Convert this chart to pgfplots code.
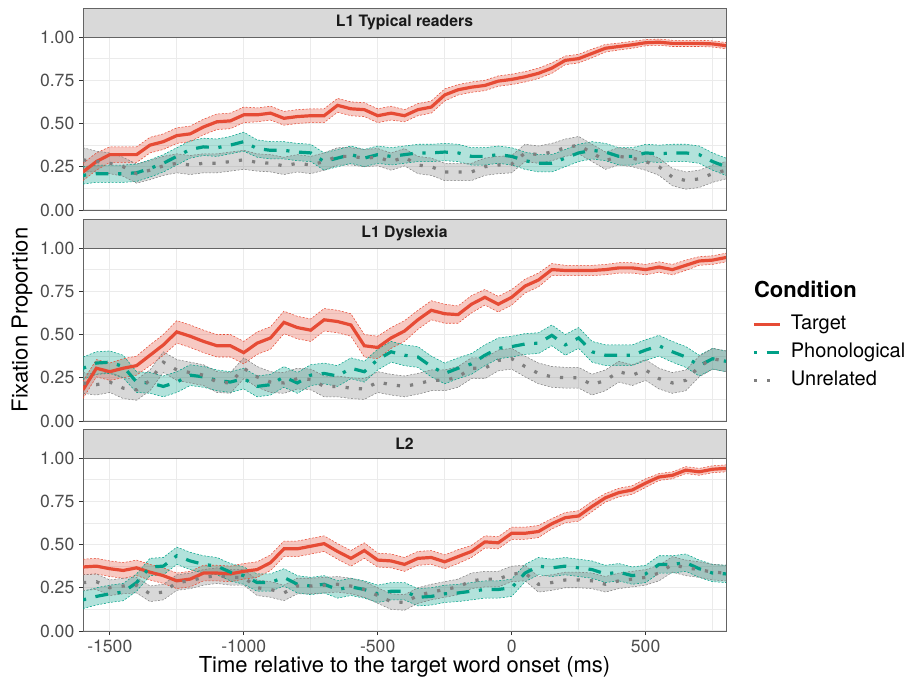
\documentclass[border=0pt]{standalone}
\usepackage{fontspec}
\setmainfont{TeX Gyre Heros}
\usepackage{pgfplots}
\usepackage{pgfplotstable}
\pgfplotsset{compat=1.18}
\usepgfplotslibrary{fillbetween}

\definecolor{cT}{HTML}{E64B35}
\definecolor{cP}{HTML}{00A087}
\definecolor{cU}{HTML}{7F7F7F}
\definecolor{gridc}{RGB}{235,235,235}
\definecolor{tickc}{RGB}{77,77,77}
\definecolor{framec}{RGB}{100,100,100}
\definecolor{stripc}{RGB}{217,217,217}

% columns: time, mean and half-width of the band for Target (T), Phonological (P), Unrelated (U)
\pgfplotstableread{
t T Ts P Ps U Us
-1600 0.22 0.05 0.20 0.05 0.29 0.07
-1550 0.28 0.05 0.21 0.05 0.28 0.06
-1500 0.32 0.045 0.21 0.05 0.27 0.06
-1450 0.32 0.045 0.21 0.05 0.25 0.055
-1400 0.32 0.045 0.215 0.05 0.21 0.055
-1350 0.375 0.045 0.24 0.05 0.23 0.055
-1300 0.395 0.045 0.27 0.05 0.255 0.055
-1250 0.43 0.045 0.31 0.05 0.27 0.055
-1200 0.44 0.045 0.35 0.05 0.26 0.055
-1150 0.48 0.045 0.365 0.05 0.27 0.055
-1100 0.51 0.045 0.36 0.05 0.27 0.055
-1050 0.515 0.045 0.375 0.05 0.28 0.055
-1000 0.55 0.045 0.395 0.055 0.29 0.055
-950 0.55 0.04 0.355 0.05 0.275 0.05
-900 0.56 0.04 0.345 0.05 0.27 0.05
-850 0.53 0.04 0.345 0.05 0.255 0.05
-800 0.54 0.04 0.335 0.05 0.27 0.05
-750 0.545 0.04 0.33 0.05 0.26 0.05
-700 0.545 0.04 0.28 0.05 0.28 0.05
-650 0.605 0.04 0.30 0.05 0.31 0.05
-600 0.585 0.04 0.32 0.05 0.31 0.05
-550 0.58 0.04 0.30 0.05 0.30 0.05
-500 0.545 0.04 0.32 0.05 0.305 0.05
-450 0.56 0.04 0.31 0.05 0.28 0.05
-400 0.545 0.035 0.32 0.05 0.305 0.05
-350 0.58 0.035 0.33 0.05 0.26 0.05
-300 0.595 0.035 0.33 0.05 0.25 0.05
-250 0.665 0.035 0.335 0.05 0.22 0.05
-200 0.695 0.03 0.33 0.05 0.22 0.05
-150 0.71 0.03 0.31 0.05 0.22 0.05
-100 0.72 0.03 0.31 0.05 0.25 0.05
-50 0.745 0.03 0.32 0.05 0.26 0.05
0 0.755 0.03 0.31 0.05 0.265 0.05
50 0.77 0.03 0.285 0.05 0.33 0.05
100 0.79 0.03 0.27 0.05 0.32 0.05
150 0.82 0.03 0.27 0.05 0.335 0.05
200 0.865 0.025 0.30 0.05 0.36 0.05
250 0.875 0.025 0.33 0.05 0.375 0.05
300 0.905 0.025 0.345 0.05 0.33 0.05
350 0.935 0.022 0.335 0.05 0.285 0.05
400 0.945 0.02 0.31 0.05 0.31 0.05
450 0.955 0.02 0.31 0.05 0.30 0.05
500 0.967 0.018 0.33 0.05 0.28 0.05
550 0.97 0.018 0.325 0.05 0.25 0.05
600 0.963 0.018 0.33 0.05 0.19 0.05
650 0.963 0.018 0.33 0.05 0.17 0.05
700 0.963 0.018 0.32 0.05 0.18 0.05
750 0.96 0.018 0.28 0.05 0.21 0.05
800 0.95 0.018 0.25 0.05 0.23 0.05
}\typical

\pgfplotstableread{
t T Ts P Ps U Us
-1600 0.18 0.05 0.305 0.065 0.22 0.06
-1550 0.305 0.05 0.335 0.065 0.21 0.06
-1500 0.285 0.05 0.34 0.065 0.225 0.06
-1450 0.305 0.055 0.315 0.065 0.19 0.06
-1400 0.32 0.055 0.225 0.06 0.18 0.06
-1350 0.38 0.06 0.22 0.06 0.235 0.06
-1300 0.44 0.06 0.20 0.06 0.34 0.06
-1250 0.515 0.065 0.225 0.06 0.295 0.06
-1200 0.49 0.065 0.265 0.06 0.28 0.06
-1150 0.46 0.065 0.255 0.06 0.265 0.06
-1100 0.435 0.065 0.235 0.06 0.225 0.06
-1050 0.435 0.065 0.225 0.06 0.22 0.06
-1000 0.395 0.065 0.245 0.06 0.305 0.06
-950 0.45 0.065 0.20 0.06 0.255 0.06
-900 0.48 0.065 0.21 0.06 0.225 0.06
-850 0.57 0.065 0.255 0.06 0.22 0.06
-800 0.54 0.065 0.22 0.06 0.245 0.06
-750 0.525 0.065 0.265 0.06 0.24 0.06
-700 0.585 0.065 0.275 0.06 0.20 0.06
-650 0.575 0.065 0.26 0.06 0.20 0.06
-600 0.555 0.065 0.305 0.06 0.19 0.06
-550 0.435 0.065 0.285 0.06 0.185 0.06
-500 0.425 0.065 0.355 0.06 0.225 0.06
-450 0.48 0.06 0.40 0.06 0.21 0.06
-400 0.52 0.06 0.38 0.06 0.20 0.06
-350 0.585 0.055 0.37 0.06 0.215 0.06
-300 0.64 0.055 0.315 0.06 0.235 0.06
-250 0.62 0.055 0.275 0.06 0.235 0.06
-200 0.615 0.05 0.305 0.06 0.255 0.06
-150 0.675 0.05 0.33 0.06 0.305 0.06
-100 0.715 0.045 0.38 0.06 0.305 0.06
-50 0.675 0.045 0.42 0.06 0.35 0.06
0 0.715 0.045 0.43 0.06 0.36 0.06
50 0.78 0.04 0.445 0.06 0.315 0.06
100 0.815 0.04 0.45 0.06 0.275 0.06
150 0.875 0.035 0.495 0.06 0.255 0.06
200 0.87 0.03 0.44 0.06 0.25 0.06
250 0.87 0.03 0.48 0.06 0.25 0.06
300 0.87 0.03 0.40 0.06 0.21 0.06
350 0.875 0.03 0.38 0.06 0.235 0.06
400 0.885 0.03 0.38 0.06 0.285 0.06
450 0.885 0.03 0.38 0.06 0.265 0.06
500 0.875 0.03 0.41 0.06 0.295 0.06
550 0.89 0.03 0.435 0.06 0.245 0.06
600 0.875 0.03 0.40 0.06 0.22 0.06
650 0.90 0.03 0.37 0.06 0.235 0.06
700 0.925 0.025 0.32 0.06 0.315 0.06
750 0.93 0.025 0.36 0.06 0.36 0.06
800 0.945 0.025 0.345 0.06 0.345 0.06
}\dyslexia

\pgfplotstableread{
t T Ts P Ps U Us
-1600 0.37 0.045 0.18 0.05 0.28 0.045
-1550 0.375 0.045 0.20 0.05 0.285 0.045
-1500 0.36 0.045 0.215 0.05 0.25 0.045
-1450 0.35 0.045 0.225 0.05 0.26 0.045
-1400 0.365 0.045 0.28 0.05 0.265 0.045
-1350 0.34 0.045 0.37 0.05 0.215 0.045
-1300 0.32 0.045 0.375 0.05 0.225 0.045
-1250 0.29 0.045 0.435 0.05 0.28 0.045
-1200 0.30 0.045 0.405 0.05 0.29 0.045
-1150 0.335 0.045 0.385 0.05 0.31 0.045
-1100 0.335 0.045 0.375 0.05 0.32 0.045
-1050 0.33 0.045 0.34 0.05 0.31 0.045
-1000 0.345 0.045 0.32 0.05 0.31 0.045
-950 0.355 0.045 0.28 0.05 0.25 0.045
-900 0.395 0.045 0.28 0.05 0.24 0.045
-850 0.475 0.045 0.31 0.05 0.22 0.045
-800 0.475 0.045 0.27 0.05 0.26 0.045
-750 0.49 0.045 0.26 0.05 0.26 0.045
-700 0.505 0.045 0.27 0.05 0.265 0.045
-650 0.46 0.045 0.24 0.05 0.27 0.045
-600 0.42 0.045 0.255 0.05 0.26 0.045
-550 0.465 0.045 0.24 0.05 0.24 0.045
-500 0.41 0.04 0.215 0.05 0.205 0.045
-450 0.405 0.04 0.23 0.05 0.17 0.045
-400 0.385 0.04 0.23 0.05 0.165 0.045
-350 0.42 0.04 0.195 0.05 0.205 0.045
-300 0.425 0.04 0.20 0.05 0.225 0.045
-250 0.40 0.04 0.215 0.05 0.24 0.045
-200 0.43 0.04 0.22 0.05 0.255 0.045
-150 0.46 0.035 0.23 0.05 0.29 0.045
-100 0.515 0.035 0.24 0.05 0.30 0.045
-50 0.51 0.035 0.24 0.05 0.30 0.045
0 0.565 0.035 0.25 0.05 0.33 0.045
50 0.565 0.035 0.335 0.05 0.335 0.045
100 0.575 0.035 0.375 0.05 0.27 0.045
150 0.62 0.03 0.365 0.05 0.28 0.045
200 0.655 0.03 0.375 0.05 0.295 0.045
250 0.665 0.03 0.365 0.05 0.295 0.045
300 0.72 0.03 0.355 0.05 0.29 0.045
350 0.77 0.025 0.33 0.05 0.27 0.045
400 0.80 0.025 0.34 0.05 0.29 0.045
450 0.815 0.025 0.32 0.05 0.30 0.045
500 0.855 0.025 0.33 0.05 0.31 0.045
550 0.89 0.02 0.385 0.05 0.335 0.045
600 0.90 0.02 0.385 0.05 0.385 0.045
650 0.93 0.02 0.395 0.05 0.365 0.045
700 0.92 0.02 0.36 0.05 0.355 0.045
750 0.935 0.02 0.335 0.05 0.34 0.045
800 0.94 0.02 0.33 0.05 0.335 0.045
}\second

% confidence band: table, column, colour, path id
\newcommand{\band}[4]{%
  \addplot[name path=#4up, draw=#3, line width=0.4pt, dash pattern=on 1.5pt off 1.2pt, forget plot]
    table[x=t, y expr=\thisrow{#2}+\thisrow{#2s}] {#1};
  \addplot[name path=#4lo, draw=#3, line width=0.4pt, dash pattern=on 1.5pt off 1.2pt, forget plot]
    table[x=t, y expr=\thisrow{#2}-\thisrow{#2s}] {#1};
  \addplot[fill=#3, fill opacity=0.3, draw=none, forget plot] fill between[of=#4up and #4lo];
}
\tikzset{
  lT/.style={cT, line width=2.4pt},
  lP/.style={cP, line width=2.4pt, dash pattern=on 2.4pt off 7.2pt on 9.6pt off 7.2pt},
  lU/.style={cU, line width=2.4pt, dash pattern=on 2.4pt off 7.6pt},
}
\newcommand{\means}[1]{%
  \addplot[lT] table[x=t, y=T] {#1};
  \addplot[lP] table[x=t, y=P] {#1};
  \addplot[lU] table[x=t, y=U] {#1};
}
\newcommand{\panel}[2]{%
  \band{#1}{T}{cT}{#2a}
  \band{#1}{P}{cP}{#2b}
  \band{#1}{U}{cU}{#2c}
  \means{#1}
}

\pgfplotsset{
  facet/.style={
    scale only axis, width=482.25pt, height=129.75pt,
    xmin=-1600, xmax=800, ymin=0, ymax=1,
    xtick={-1500,-1000,-500,0,500},
    minor xtick={-1250,-750,-250,250,750},
    ytick={0,0.25,0.5,0.75,1},
    yticklabels={0.00,0.25,0.50,0.75,1.00},
    minor ytick={0.125,0.375,0.625,0.875},
    grid=both,
    major grid style={draw=gridc, line width=0.9pt},
    minor grid style={draw=gridc, line width=0.45pt},
    axis line style={draw=framec, line width=0.6pt},
    tick align=outside, xtick pos=left, ytick pos=left,
    major tick length=3pt, minor tick length=0pt,
    tick style={draw=black!80, line width=0.6pt},
    tick label style={font=\fontsize{13.2}{15}\selectfont, text=tickc},
    every axis title shift=0pt,
    title style={at={(0.5,1)}, anchor=south, yshift=0pt, fill=stripc, draw=framec,
      line width=0.6pt, minimum width=482.25pt, minimum height=21.75pt,
      inner sep=0pt, outer sep=0pt, text=black!90,
      font=\bfseries\fontsize{11.8}{13}\selectfont},
    legend image code/.code={\draw[##1] (0pt,0pt) -- (19.5pt,0pt);},
  },
  notx/.style={xticklabels={,,,,}, major x tick style={draw=none}},
}

\begin{document}
\begin{tikzpicture}

\begin{axis}[facet, notx, at={(62.25pt,-27.75pt)}, anchor=north west,
  title={L1 Typical readers}]
  \panel{\typical}{pa}
\end{axis}

\begin{axis}[facet, notx, at={(62.25pt,-186pt)}, anchor=north west,
  title={L1 Dyslexia},
  legend style={at={(1,0.615)}, anchor=north west, xshift=19.5pt,
    draw=none, fill=none, inner sep=0pt, row sep=6.4pt, column sep=7pt,
    font=\fontsize{15}{17}\selectfont,
    nodes={inner sep=0pt, text height=11pt, text depth=3.5pt}},
  legend cell align=left]
  \panel{\dyslexia}{pb}
  \legend{Target,Phonological,Unrelated}
\end{axis}

\begin{axis}[facet, at={(62.25pt,-343.5pt)}, anchor=north west,
  title={L2}, xticklabels={-1500,-1000,-500,0,500}]
  \panel{\second}{pc}
\end{axis}

\node[anchor=west, font=\bfseries\fontsize{16.5}{19}\selectfont] at (562pt,-216.75pt) {Condition};
\node[rotate=90, font=\fontsize{16.5}{19}\selectfont] at (16.5pt,-240pt) {Fixation Proportion};
\node[font=\fontsize{16.5}{19}\selectfont] at (303.4pt,-500.5pt) {Time relative to the target word onset (ms)};
\path (0,0) rectangle (682.5pt,-513pt);
\end{tikzpicture}
\end{document}
